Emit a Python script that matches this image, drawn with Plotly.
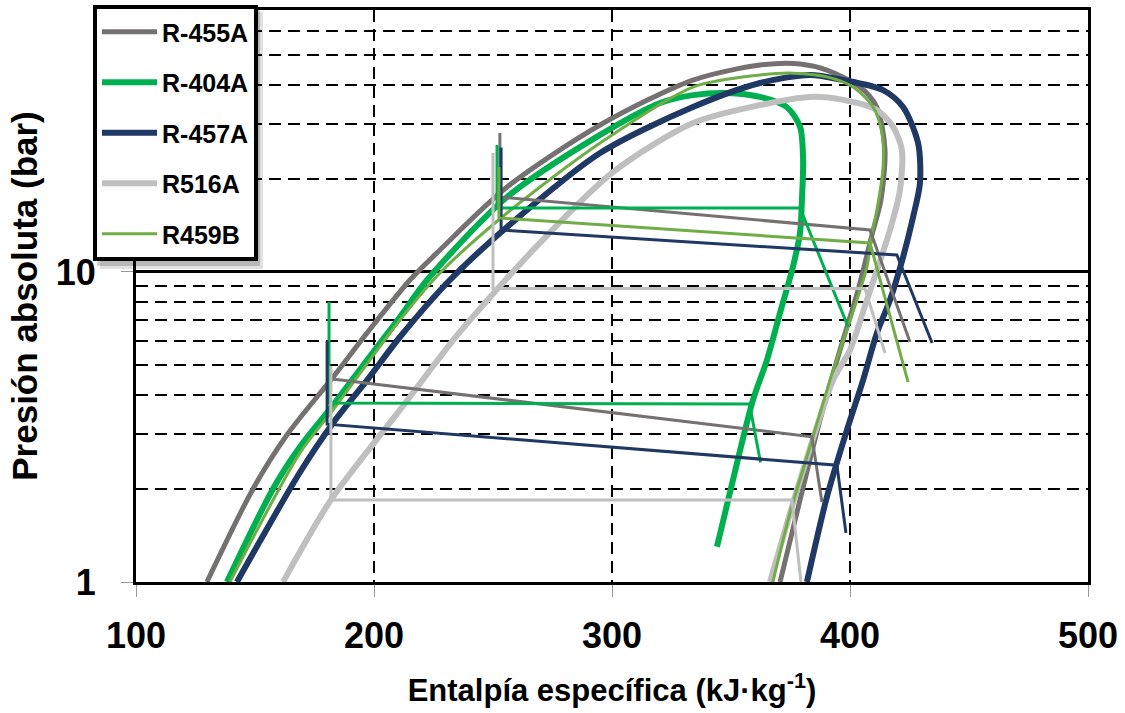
import plotly.graph_objects as go

# ---------------- data (h in kJ/kg, p in bar) ----------------
names = ["R-455A", "R-404A", "R-457A", "R516A", "R459B"]
colors = ["#767171", "#00B050", "#1F3864", "#BFBFBF", "#70AD47"]

# saturation domes
r455a_h = [129.8, 149.2, 163.4, 182.8, 197.1, 215.1, 227.7, 255.9, 295.0, 334.0, 362.2, 379.0,
           390.3, 404.2, 411.3, 414.7, 413.0, 409.2, 403.4, 395.8, 387.4, 379.0, 370.6]
r455a_p = [1.0, 2.0, 2.98, 4.58, 6.36, 9.42, 11.78, 18.8, 29.8, 41.6, 46.5, 46.9,
           44.8, 39.5, 34.0, 24.75, 17.06, 13.16, 8.75, 5.6, 3.33, 1.84, 1.0]

r404a_h = [138.2, 157.6, 168.9, 182.8, 197.1, 210.9, 222.3, 255.9, 295.0, 320.2, 334.0, 348.3,
           362.2, 373.5, 379.0, 380.3, 379.8, 379.0, 376.0, 370.6, 365.1, 359.2, 350.8, 344.1]
r404a_p = [1.0, 2.0, 2.73, 3.72, 5.2, 7.16, 9.42, 17.45, 27.7, 35.1, 37.2, 37.8,
           36.7, 34.0, 29.4, 23.0, 17.06, 13.36, 10.38, 7.38, 5.2, 3.86, 2.13, 1.30]

r457a_h = [142.4, 168.9, 182.8, 197.1, 210.9, 231.9, 255.9, 295.0, 334.0, 362.2, 383.2, 397.1,
           413.9, 422.3, 428.6, 429.4, 426.5, 422.3, 416.8, 411.3, 405.5, 398.7, 390.3, 381.9]
r457a_p = [1.0, 2.26, 3.26, 4.48, 6.17, 9.42, 13.97, 24.2, 34.05, 40.7, 43.2, 41.6,
           38.6, 34.05, 26.06, 19.37, 15.04, 11.17, 8.12, 6.36, 4.48, 3.09, 1.88, 1.0]

r516a_h = [161.8, 181.9, 210.9, 236.1, 269.7, 300.4, 334.0, 362.2, 383.2, 397.1, 411.3,
           418.1, 421.8, 421.0, 416.8, 407.1, 400.0, 392.9, 379.0, 366.4]
r516a_p = [1.0, 1.84, 3.59, 6.41, 12.41, 21.0, 30.25, 34.56, 36.7, 35.9, 33.3,
           29.4, 24.75, 18.39, 13.66, 8.12, 5.6, 4.48, 2.13, 1.0]

r459b_h = [139.5, 168.9, 182.8, 210.9, 227.7, 255.9, 295.0, 334.0, 362.2, 376.0, 390.3, 401.3,
           409.7, 413.4, 413.9, 411.3, 409.2, 407.1, 402.9, 395.8, 391.6, 383.2, 374.8, 367.6]
r459b_p = [1.0, 2.61, 3.59, 7.0, 9.93, 15.5, 26.06, 39.5, 43.2, 43.8, 42.6, 39.5,
           34.05, 28.1, 21.9, 15.85, 13.36, 10.38, 8.12, 5.6, 4.48, 2.73, 1.67, 1.0]

# cycle lines (high and low stage)
r455a_hi_h = [252.9, 252.9, 408.4, 425.2]
r455a_hi_p = [28.1, 17.45, 13.66, 5.95]
r455a_lo_h = [182.4, 384.0, 388.2]
r455a_lo_p = [4.52, 2.94, 1.81]

r404a_hi_h = [251.7, 251.7, 379.0, 399.2]
r404a_hi_p = [25.7, 16.08, 16.08, 6.65]
r404a_lo_h = [181.1, 181.1, 357.8, 362.4]
r404a_lo_p = [8.02, 3.78, 3.75, 2.43]

r457a_hi_h = [253.4, 253.4, 419.7, 434.5]
r457a_hi_p = [25.2, 13.66, 11.34, 5.9]
r457a_lo_h = [180.3, 180.3, 394.5, 398.3]
r457a_lo_p = [5.99, 3.23, 2.38, 1.44]

r516a_hi_h = [250.0, 250.0, 406.3, 414.7]
r516a_hi_p = [24.2, 8.85, 8.85, 5.48]
r516a_lo_h = [181.9, 181.9, 375.6, 379.4]
r516a_lo_p = [4.97, 1.84, 1.84, 1.0]

r459b_hi_h = [252.5, 252.5, 408.4, 424.4]
r459b_hi_p = [21.8, 14.94, 12.41, 4.41]

x_ticks = [100, 200, 300, 400, 500]
y_ticks = [1, 10]
y_minor = [2, 3, 4, 5, 6, 7, 8, 9, 20, 30, 40, 50, 60]

FONT = "Liberation Sans, Arial, sans-serif"

domes = [(r455a_h, r455a_p, 5), (r404a_h, r404a_p, 6), (r457a_h, r457a_p, 6),
         (r516a_h, r516a_p, 6), (r459b_h, r459b_p, 3)]
cycles = [
    (0, r455a_hi_h, r455a_hi_p), (0, r455a_lo_h, r455a_lo_p),
    (1, r404a_hi_h, r404a_hi_p), (1, r404a_lo_h, r404a_lo_p),
    (2, r457a_hi_h, r457a_hi_p), (2, r457a_lo_h, r457a_lo_p),
    (3, r516a_hi_h, r516a_hi_p), (3, r516a_lo_h, r516a_lo_p),
    (4, r459b_hi_h, r459b_hi_p),
]

fig = go.Figure()
for i, (h, p, w) in enumerate(domes):
    fig.add_trace(go.Scatter(
        x=h, y=p, mode="lines", name=names[i], legendgroup=names[i],
        line=dict(color=colors[i], width=w, shape="spline", smoothing=0.8),
        hoverinfo="skip"))
for i, h, p in cycles:
    fig.add_trace(go.Scatter(
        x=h, y=p, mode="lines", name=names[i], legendgroup=names[i], showlegend=False,
        line=dict(color=colors[i], width=3), hoverinfo="skip"))

# legend drop shadow (soft, two layers)
for off, alpha in [(7, 0.12), (4, 0.18)]:
    fig.add_shape(type="rect", xref="paper", yref="paper",
                  x0=(93 + off - 136) / 952, x1=(256 + off - 136) / 952,
                  y0=(582 - 262 - off) / 572, y1=(582 - 5 - off) / 572,
                  fillcolor="rgba(0,0,0,%s)" % alpha, line=dict(width=0), layer="above")

fig.update_layout(
    width=1125, height=713,
    margin=dict(l=136, r=37, t=10, b=131, autoexpand=False),
    paper_bgcolor="white", plot_bgcolor="white",
    font=dict(family=FONT, color="black"),
    showlegend=True,
    legend=dict(
        x=(93 - 136) / 952, y=(582 - 5) / 572, xanchor="left", yanchor="top",
        bgcolor="white", bordercolor="black", borderwidth=4,
        font=dict(family=FONT, size=25, color="black", weight="bold"),
        itemwidth=55, tracegroupgap=15, traceorder="grouped",
    ),
    xaxis=dict(
        range=[100, 500], tickvals=x_ticks, automargin=False,
        showgrid=True, gridcolor="black", gridwidth=2, griddash="12px,7px",
        showline=True, linecolor="black", linewidth=3, mirror=True,
        ticks="outside", ticklen=12, tickcolor="#999999", tickwidth=1,
        ticklabelstandoff=8,
        tickfont=dict(family=FONT, size=36, color="black", weight="bold"),
        title=dict(text="Entalpía específica (kJ·kg<sup>-1</sup>)",
                   font=dict(family=FONT, size=31, color="black", weight="bold"),
                   standoff=25),
        zeroline=False,
    ),
    yaxis=dict(
        type="log", range=[0, 1.8451], tickvals=y_ticks, ticktext=["1", "10"],
        automargin=True,
        showgrid=True, gridcolor="black", gridwidth=2.5,
        minor=dict(tickvals=y_minor, showgrid=True, gridcolor="black", gridwidth=2,
                   griddash="12px,7px", ticks=""),
        showline=True, linecolor="black", linewidth=3, mirror=True,
        ticks="outside", ticklen=12, tickcolor="#999999", tickwidth=1,
        ticklabelstandoff=18,
        tickfont=dict(family=FONT, size=36, color="black", weight="bold"),
        title=dict(text="Presión absoluta (bar)",
                   font=dict(family=FONT, size=35, color="black", weight="bold"),
                   standoff=8),
        zeroline=False,
    ),
)

fig.write_html("out.html")
